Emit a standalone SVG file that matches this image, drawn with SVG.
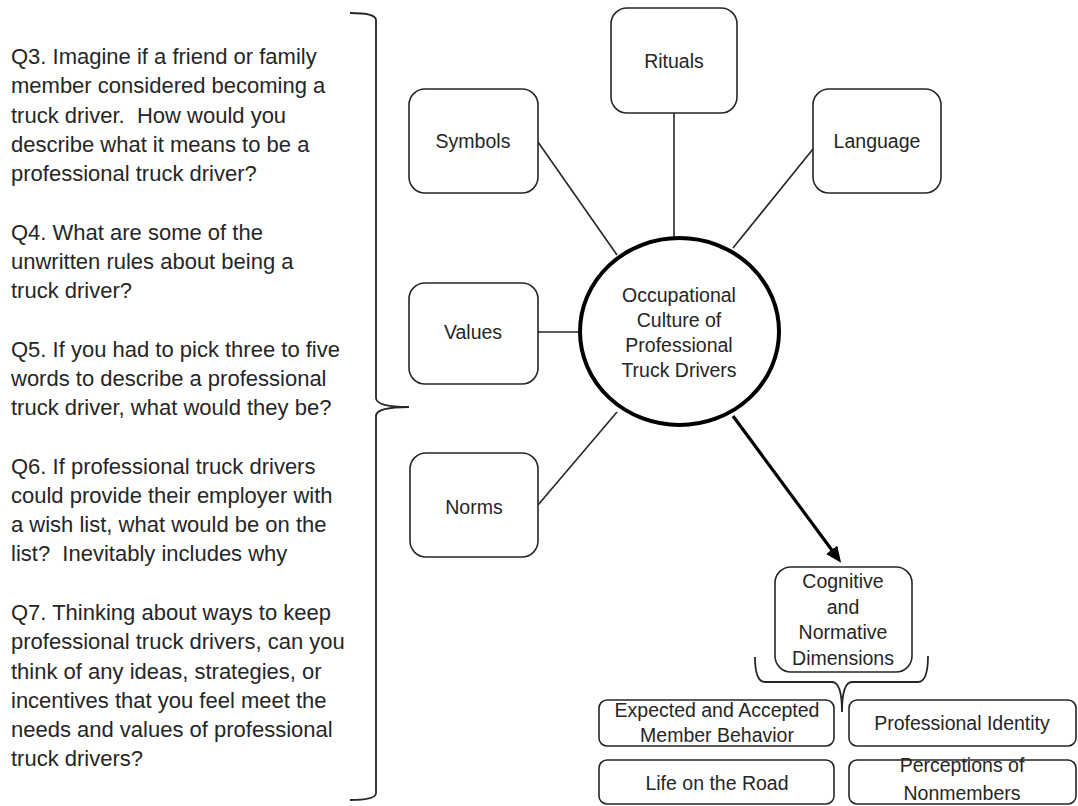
<svg xmlns="http://www.w3.org/2000/svg" width="1078" height="806" viewBox="0 0 1078 806">
<style>
  .q { font-family: "Liberation Sans", Arial, sans-serif; font-size: 22px; fill: #262626; white-space: pre; }
  .lbl { font-family: "Liberation Sans", Arial, sans-serif; font-size: 19.5px; fill: #262626; text-anchor: middle; }
  .box { fill: #ffffff; stroke: #262626; stroke-width: 1.6; }
  .conn { fill: none; stroke: #262626; stroke-width: 1.6; }
  .brace { fill: none; stroke: #262626; stroke-width: 1.8; }
</style>
<defs>
  <marker id="ah" markerWidth="18" markerHeight="14" refX="4" refY="7" orient="auto" markerUnits="userSpaceOnUse">
    <path d="M0,0 L16,7 L0,14 Z" fill="#000"/>
  </marker>
</defs>
<rect width="1078" height="806" fill="#ffffff"/>

<g id="questions">
  <text class="q" x="11" y="64">Q3. Imagine if a friend or family</text>
  <text class="q" x="11" y="93.3">member considered becoming a</text>
  <text class="q" x="11" y="122.5" xml:space="preserve">truck driver.  How would you</text>
  <text class="q" x="11" y="151.8">describe what it means to be a</text>
  <text class="q" x="11" y="181">professional truck driver?</text>
  <text class="q" x="11" y="239.5">Q4. What are some of the</text>
  <text class="q" x="11" y="268.8">unwritten rules about being a</text>
  <text class="q" x="11" y="298">truck driver?</text>
  <text class="q" x="11" y="356.5">Q5. If you had to pick three to five</text>
  <text class="q" x="11" y="385.8">words to describe a professional</text>
  <text class="q" x="11" y="415">truck driver, what would they be?</text>
  <text class="q" x="11" y="473.5">Q6. If professional truck drivers</text>
  <text class="q" x="11" y="502.8">could provide their employer with</text>
  <text class="q" x="11" y="532">a wish list, what would be on the</text>
  <text class="q" x="11" y="561.3" xml:space="preserve">list?  Inevitably includes why</text>
  <text class="q" x="11" y="620">Q7. Thinking about ways to keep</text>
  <text class="q" x="11" y="649.3">professional truck drivers, can you</text>
  <text class="q" x="11" y="678.5">think of any ideas, strategies, or</text>
  <text class="q" x="11" y="707.8">incentives that you feel meet the</text>
  <text class="q" x="11" y="737">needs and values of professional</text>
  <text class="q" x="11" y="766.3">truck drivers?</text>
</g>

<g id="brace-questions">
  <path class="brace" d="M350,13 Q376,13 376,20 L376,398 Q376,407 409,407 Q376,407 376,416 L376,793 Q376,800 350,800"/>
</g>

<g id="connectors">
  <line class="conn" x1="674" y1="113" x2="674" y2="237"/>
  <line class="conn" x1="538" y1="142" x2="617" y2="255"/>
  <line class="conn" x1="813" y1="149" x2="733" y2="248"/>
  <line class="conn" x1="538" y1="332" x2="580" y2="332"/>
  <line class="conn" x1="538" y1="505" x2="617" y2="412"/>
  <line x1="733" y1="416" x2="834" y2="553" stroke="#000" stroke-width="3.2" marker-end="url(#ah)"/>
  <path class="brace" d="M755,657 Q755,682 765,682 L832,682 Q842,682 842,712 Q842,682 852,682 L918,682 Q928,682 928,656"/>
</g>

<g id="node-rituals">
  <rect class="box" x="611" y="8" width="126" height="105" rx="16"/>
  <text class="lbl" x="674" y="68">Rituals</text>
</g>
<g id="node-symbols">
  <rect class="box" x="409" y="89" width="129" height="104" rx="16"/>
  <text class="lbl" x="473" y="148">Symbols</text>
</g>
<g id="node-language">
  <rect class="box" x="813" y="89" width="128" height="104" rx="16"/>
  <text class="lbl" x="877" y="148">Language</text>
</g>
<g id="node-values">
  <rect class="box" x="409" y="283" width="129" height="101" rx="16"/>
  <text class="lbl" x="473" y="339">Values</text>
</g>
<g id="node-norms">
  <rect class="box" x="410" y="453" width="128" height="104" rx="16"/>
  <text class="lbl" x="474" y="514">Norms</text>
</g>
<g id="node-center">
  <ellipse cx="679.5" cy="331.5" rx="99.5" ry="93.5" fill="#ffffff" stroke="#000" stroke-width="4"/>
  <text class="lbl" x="679" y="302">Occupational</text>
  <text class="lbl" x="679" y="327">Culture of</text>
  <text class="lbl" x="679" y="352">Professional</text>
  <text class="lbl" x="679" y="377">Truck Drivers</text>
</g>
<g id="node-cognitive">
  <rect class="box" x="775" y="567" width="137" height="105" rx="16"/>
  <text class="lbl" x="843" y="588">Cognitive</text>
  <text class="lbl" x="843" y="613.5">and</text>
  <text class="lbl" x="843" y="639">Normative</text>
  <text class="lbl" x="843" y="664.5">Dimensions</text>
</g>
<g id="node-expected">
  <rect class="box" x="599" y="700" width="235" height="46" rx="8"/>
  <text class="lbl" x="717" y="717">Expected and Accepted</text>
  <text class="lbl" x="717" y="742">Member Behavior</text>
</g>
<g id="node-identity">
  <rect class="box" x="849" y="700" width="227" height="46" rx="8"/>
  <text class="lbl" x="962" y="730">Professional Identity</text>
</g>
<g id="node-road">
  <rect class="box" x="599" y="760" width="235" height="44" rx="8"/>
  <text class="lbl" x="717" y="790">Life on the Road</text>
</g>
<g id="node-perceptions">
  <rect class="box" x="849" y="760" width="227" height="44" rx="8"/>
  <text class="lbl" x="962" y="772">Perceptions of</text>
  <text class="lbl" x="962" y="800">Nonmembers</text>
</g>
</svg>
